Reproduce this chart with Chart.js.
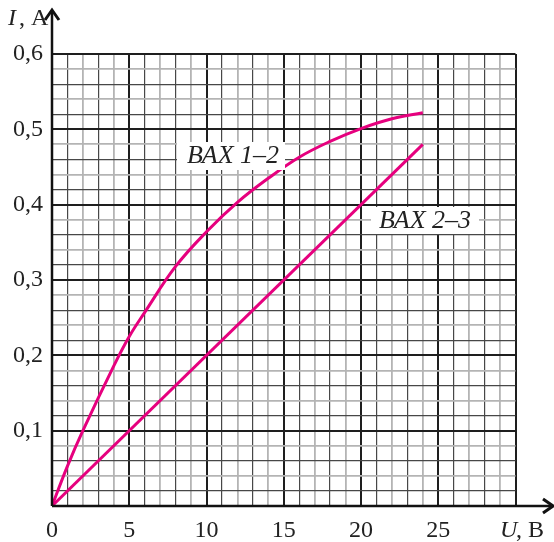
<!DOCTYPE html>
<html>
<head>
<meta charset="utf-8">
<script src="https://cdn.jsdelivr.net/npm/chart.js@4.4.0/dist/chart.umd.min.js"></script>
<style>
  html, body { margin: 0; padding: 0; background: #fff; }
  #wrap { width: 554px; height: 542px; position: relative; }
</style>
</head>
<body>
<div id="wrap"><canvas id="chart"></canvas></div>
<script>
// === Data (U in volts, I in amperes) ===
const U_12 = [0, 1, 2, 4, 5, 6, 8, 10, 12, 14, 16, 18, 20, 22, 24];
const I_12 = [0, 0.053, 0.1, 0.186, 0.225, 0.257, 0.318, 0.364, 0.403, 0.435, 0.463, 0.484, 0.501, 0.514, 0.522];
const U_23 = [0, 24];
const I_23 = [0, 0.48];

const X_LABELS = ["0", "5", "10", "15", "20", "25"];
const Y_LABELS = ["0,1", "0,2", "0,3", "0,4", "0,5", "0,6"];
const SERIES_NAMES = ["ВАХ 1–2", "ВАХ 2–3"];

const MAGENTA = "#e6007e";
const FONT = "'Liberation Serif', 'DejaVu Serif', serif";

function pts(xs, ys) {
  return xs.map((x, i) => ({ x: x, y: ys[i] }));
}

// grid style: major every 5 minor steps, odd minors dark, even minors grey
function gridColor(k) {
  if (k % 5 === 0) return "#1e1e1e";
  return (k % 5) % 2 === 1 ? "#474747" : "#b4b4b4";
}
function gridWidth(k) {
  if (k % 5 === 0) return 2;
  return (k % 5) % 2 === 1 ? 1.2 : 1.8;
}

// =========================
// ARROWS, AXIS NAMES, CURVE LABELS
// =========================
const decorations = {
  id: "decorations",
  afterDraw(chart) {
    const ctx = chart.ctx;
    const xs = chart.scales.x, ys = chart.scales.y;
    const x0 = xs.getPixelForValue(0);
    const y0 = ys.getPixelForValue(0);

    ctx.save();
    ctx.strokeStyle = "#111";
    ctx.lineWidth = 2.5;
    ctx.beginPath();
    ctx.moveTo(x0, y0);
    ctx.lineTo(x0, 11);
    ctx.moveTo(x0, y0);
    ctx.lineTo(552, y0);
    ctx.stroke();

    ctx.lineWidth = 3;
    ctx.lineJoin = "miter";
    ctx.beginPath();
    ctx.moveTo(x0 - 7, 20);
    ctx.lineTo(x0, 10);
    ctx.lineTo(x0 + 7, 20);
    ctx.moveTo(543, y0 - 7);
    ctx.lineTo(553, y0);
    ctx.lineTo(543, y0 + 7);
    ctx.stroke();

    // axis names
    ctx.fillStyle = "#222";
    ctx.textBaseline = "alphabetic";
    ctx.textAlign = "left";
    ctx.font = "italic 24px " + FONT;
    ctx.fillText("I", 8, 25);
    ctx.font = "24px " + FONT;
    ctx.fillText(", А", 19, 25);

    ctx.font = "italic 24px " + FONT;
    ctx.fillText("U", 500, 537);
    ctx.font = "24px " + FONT;
    ctx.fillText(", В", 516, 537);

    // curve labels on white boxes
    const labels = [
      { text: SERIES_NAMES[0], box: [177, 142, 108, 28], cx: 233, cy: 156 },
      { text: SERIES_NAMES[1], box: [371, 207, 108, 27], cx: 425, cy: 221 }
    ];
    ctx.font = "italic 26px " + FONT;
    ctx.textAlign = "center";
    ctx.textBaseline = "middle";
    labels.forEach((l) => {
      ctx.fillStyle = "#fff";
      ctx.fillRect(l.box[0], l.box[1], l.box[2], l.box[3]);
      ctx.fillStyle = "#222";
      ctx.fillText(l.text, l.cx, l.cy);
    });
    ctx.restore();
  }
};

// =========================
// CHART
// =========================
new Chart(document.getElementById("chart"), {
  type: "line",
  data: {
    datasets: [
      {
        label: SERIES_NAMES[0],
        data: pts(U_12, I_12),
        borderColor: MAGENTA,
        borderWidth: 3,
        pointRadius: 0,
        tension: 0.4,
        fill: false
      },
      {
        label: SERIES_NAMES[1],
        data: pts(U_23, I_23),
        borderColor: MAGENTA,
        borderWidth: 3,
        pointRadius: 0,
        fill: false
      }
    ]
  },
  options: {
    responsive: true,
    maintainAspectRatio: false,
    animation: false,
    layout: { padding: { top: 54, right: 38.5, left: 0, bottom: 0 } },
    plugins: { legend: { display: false }, tooltip: { enabled: false } },
    scales: {
      x: {
        type: "linear",
        min: 0,
        max: 30,
        afterFit(scale) { scale.height = 36; },
        afterBuildTicks(scale) {
          scale.ticks = Array.from({ length: 31 }, (_, i) => ({ value: i }));
        },
        border: { display: false },
        grid: {
          drawTicks: false,
          color: (c) => gridColor(Math.round(c.tick.value)),
          lineWidth: (c) => gridWidth(Math.round(c.tick.value))
        },
        ticks: {
          autoSkip: false,
          maxRotation: 0,
          padding: 10,
          color: "#222",
          font: { family: FONT, size: 24 },
          callback: (v) => {
            const k = Math.round(v);
            return k % 5 === 0 && k / 5 < X_LABELS.length ? X_LABELS[k / 5] : "";
          }
        }
      },
      y: {
        type: "linear",
        min: 0,
        max: 0.6,
        afterFit(scale) { scale.width = 52; },
        afterBuildTicks(scale) {
          scale.ticks = Array.from({ length: 31 }, (_, i) => ({ value: i * 0.02 }));
        },
        border: { display: false },
        grid: {
          drawTicks: false,
          color: (c) => gridColor(Math.round(c.tick.value * 50)),
          lineWidth: (c) => gridWidth(Math.round(c.tick.value * 50))
        },
        ticks: {
          autoSkip: false,
          padding: 9,
          color: "#222",
          font: { family: FONT, size: 24 },
          callback: (v) => {
            const k = Math.round(v * 50);
            return k > 0 && k % 5 === 0 ? Y_LABELS[k / 5 - 1] : "";
          }
        }
      }
    }
  },
  plugins: [decorations]
});
</script>
</body>
</html>
